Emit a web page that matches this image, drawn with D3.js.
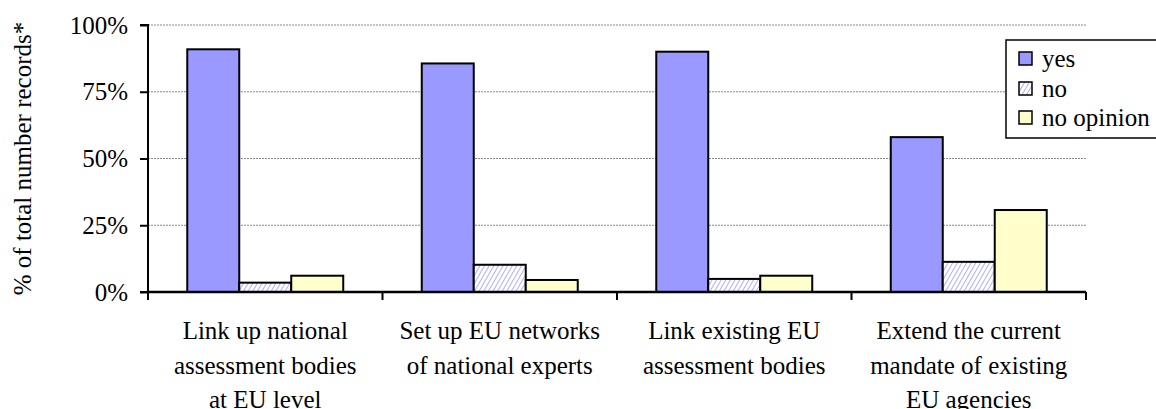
<!DOCTYPE html>
<html>
<head>
<meta charset="utf-8">
<script src="https://cdn.jsdelivr.net/npm/d3@7"></script>
</head>
<body style="margin:0">
<svg id="chart" width="1156" height="409" font-family="Liberation Serif, Times New Roman, serif"></svg>
<script>
// ---- data ----
const categories = [
  "Link up national assessment bodies at EU level",
  "Set up EU networks of national experts",
  "Link existing EU assessment bodies",
  "Extend the current mandate of existing EU agencies"
];
const categoryLines = [
  ["Link up national", "assessment bodies", "at EU level"],
  ["Set up EU networks", "of national experts"],
  ["Link existing EU", "assessment bodies"],
  ["Extend the current", "mandate of existing", "EU agencies"]
];
const seriesNames = ["yes", "no", "no opinion"];
const yesValues = [90.9, 85.6, 90.0, 58.0];
const noValues = [3.5, 10.2, 4.9, 11.3];
const noOpinionValues = [6.1, 4.5, 6.1, 30.7];
const yTicks = [0, 25, 50, 75, 100];
const yTitle = "% of total number records*";

const seriesValues = [yesValues, noValues, noOpinionValues];

const FONT_ATTR = "Liberation Serif, Times New Roman, serif";
const FONT_STYLE = '"Liberation Serif", "Times New Roman", serif';
function serif(sel) {
  return sel.attr("font-family", FONT_ATTR).style("font-family", FONT_STYLE);
}

// ---- layout ----
const svg = d3.select("#chart");
const plotLeft = 148, plotRight = 1086, plotTop = 25, plotBottom = 292;

const x0 = d3.scaleBand().domain(categories).range([plotLeft, plotRight]).padding(0);
const x1 = d3.scaleBand().domain(seriesNames).range([0, x0.bandwidth()])
  .paddingInner(0).paddingOuter(0.755);
const y = d3.scaleLinear().domain([0, 100]).range([plotBottom, plotTop]);

// hatch pattern
const defs = svg.append("defs");
const pat = defs.append("pattern").attr("id", "hatch")
  .attr("patternUnits", "userSpaceOnUse").attr("width", 4).attr("height", 4)
  .attr("patternTransform", "rotate(30)");
pat.append("rect").attr("width", 4).attr("height", 4).attr("fill", "#ffffff");
pat.append("line").attr("x1", 0).attr("y1", 0).attr("x2", 0).attr("y2", 4)
  .attr("stroke", "#9999ff").attr("stroke-width", 1.6);

const fills = ["#9999ff", "url(#hatch)", "#ffffcc"];

// gridlines
svg.append("g").selectAll("line").data(yTicks.filter(d => d > 0)).join("line")
  .attr("x1", plotLeft).attr("x2", plotRight)
  .attr("y1", d => y(d)).attr("y2", d => y(d))
  .attr("stroke", "#888").attr("stroke-width", 1).attr("stroke-dasharray", "2,1");

// bars
const gBars = svg.append("g");
categories.forEach((c, ci) => {
  seriesNames.forEach((s, si) => {
    const v = seriesValues[si][ci];
    gBars.append("rect")
      .attr("x", x0(c) + x1(s))
      .attr("y", y(v))
      .attr("width", x1.bandwidth())
      .attr("height", y(0) - y(v))
      .attr("fill", fills[si])
      .attr("stroke", "#000").attr("stroke-width", 2);
  });
});

// y axis
const yAxis = d3.axisLeft(y).tickValues(yTicks).tickFormat(d => d + "%")
  .tickSize(8).tickPadding(12);
const gy = svg.append("g").attr("transform", `translate(${plotLeft},0)`).call(yAxis);
serif(gy).attr("font-size", 25);
gy.select(".domain").attr("stroke", "#000").attr("stroke-width", 2).attr("d", `M-8,${plotTop}H0V${plotBottom}H-8`);
gy.selectAll(".tick line").attr("stroke", "#000").attr("stroke-width", 2);
serif(gy.selectAll(".tick text")).attr("font-size", 25).attr("fill", "#000");

// x axis line + ticks at boundaries
const boundaries = categories.map(c => x0(c)).concat([plotRight]);
svg.append("line").attr("x1", plotLeft).attr("x2", plotRight).attr("y1", plotBottom).attr("y2", plotBottom)
  .attr("stroke", "#000").attr("stroke-width", 2.5);
svg.append("g").selectAll("line").data(boundaries).join("line")
  .attr("x1", d => d).attr("x2", d => d).attr("y1", plotBottom).attr("y2", plotBottom + 8)
  .attr("stroke", "#000").attr("stroke-width", 2);

// category labels
const baselines = [339, 373.5, 408];
categories.forEach((c, ci) => {
  const cx = x0(c) + x0.bandwidth() / 2;
  categoryLines[ci].forEach((ln, li) => {
    serif(svg.append("text")).attr("text-anchor", "middle").attr("font-size", 25)
      .attr("fill", "#000").attr("x", cx).attr("y", baselines[li]).text(ln);
  });
});

// y title
serif(svg.append("text"))
  .attr("transform", `translate(31,${(plotTop + plotBottom) / 2}) rotate(-90)`)
  .attr("text-anchor", "middle").attr("font-size", 25).attr("fill", "#000")
  .text(yTitle);

// legend
const lg = svg.append("g");
lg.append("rect").attr("x", 1006).attr("y", 40).attr("width", 160).attr("height", 98)
  .attr("fill", "#fff").attr("stroke", "#000").attr("stroke-width", 1.5);
const rowY = [59, 89, 118];
seriesNames.forEach((s, si) => {
  lg.append("rect").attr("x", 1019).attr("y", rowY[si] - 7).attr("width", 13).attr("height", 13)
    .attr("fill", fills[si]).attr("stroke", "#000").attr("stroke-width", 1.5);
  serif(lg.append("text")).attr("x", 1042).attr("y", rowY[si] + 8).attr("font-size", 25)
    .attr("fill", "#000").text(s);
});
</script>
</body>
</html>
